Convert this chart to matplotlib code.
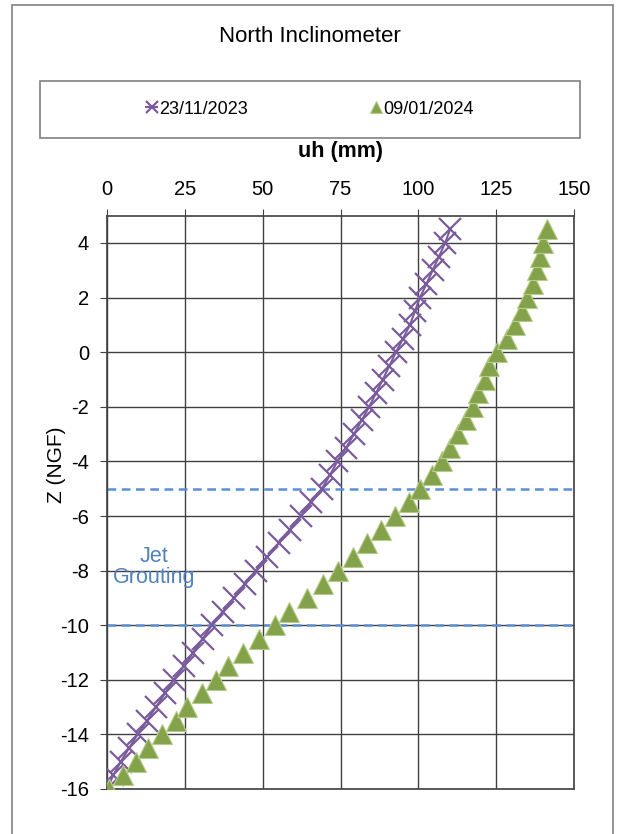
import numpy as np
import matplotlib.pyplot as plt
from matplotlib.patches import Rectangle

plt.rcParams['font.family'] = ['Liberation Sans', 'DejaVu Sans']
plt.rcParams['axes.unicode_minus'] = False

# depth of each reading (m NGF), every 0.5 m
z = np.arange(-16, 4.51, 0.5)

# horizontal displacement uh (mm)
uh_2023 = [0.0, 2.0, 4.4, 7.1, 9.8, 12.8, 15.7, 18.6, 21.5, 24.6, 27.7,
           30.7, 33.7, 37.2, 40.8, 44.4, 47.9, 51.5, 55.1, 58.7, 62.2,
           65.6, 69.0, 71.6, 74.0, 76.8, 79.3, 81.8, 84.2, 86.4, 88.6,
           90.7, 92.8, 95.1, 97.3, 98.9, 100.5, 102.6, 104.6, 106.6,
           108.6, 110.2]
uh_2024 = [0.8, 5.2, 9.3, 13.3, 17.6, 22.2, 25.8, 30.4, 35.0, 39.0, 43.8,
           48.9, 54.0, 58.4, 64.1, 69.4, 74.3, 78.9, 83.4, 88.0, 92.5,
           97.0, 100.6, 104.3, 107.5, 110.2, 112.8, 115.3, 117.4, 119.3,
           121.4, 122.7, 125.2, 128.4, 131.0, 133.2, 134.8, 136.7, 138.0,
           139.1, 139.9, 141.2]
labels = ['23/11/2023', '09/01/2024']

# jet grouting zone limits
grout_top = -5
grout_bottom = -10

W, H = 617, 834
fig = plt.figure(figsize=(W / 100, H / 100), dpi=100)
ax = fig.add_axes([107 / W, 1 - 789 / H, (574 - 107) / W, (789 - 215.7) / H])

ax.plot(uh_2023, z, color='#7A5C9C', lw=1.5, marker='x', ms=15.5, mew=1.6,
        label=labels[0], zorder=3)
ax.plot(uh_2024, z, color='#84A24A', lw=0, marker='^', ms=15,
        mec='#B5CB8A', mew=0.8, label=labels[1], zorder=4)

for zz in (grout_top, grout_bottom):
    ax.axhline(zz, color='#5B8FD6', lw=1.8, ls=(0, (3.5, 2.2)), zorder=2)
ax.text(15, -7.85, 'Jet\nGrouting', color='#4F81BD', fontsize=15.5,
        ha='center', va='center', linespacing=1.0)

ax.set_xlim(0, 150)
ax.set_ylim(-16, 5)
ax.set_xticks(np.arange(0, 151, 25))
ax.set_yticks(np.arange(-16, 5, 2))
ax.xaxis.tick_top()
ax.tick_params(axis='both', labelsize=14.5, length=5, color='#404040')
ax.tick_params(axis='y', pad=8)
ax.tick_params(axis='x', pad=7)
ax.grid(True, color='#404040', lw=1.0)
ax.set_axisbelow(True)
for s in ax.spines.values():
    s.set_color('#404040')
    s.set_linewidth(1.2)

fig.text(0.5 * (107 + 574) / W, 1 - 152 / H, 'uh (mm)', fontsize=15.5,
         fontweight='bold', ha='center', va='center')
fig.text(57 / W, 1 - 465 / H, 'Z (NGF)', fontsize=15, rotation=90,
         ha='center', va='center')
fig.text(0.5 * (40 + 580) / W, 1 - 37 / H, 'North Inclinometer', fontsize=16,
         ha='center', va='center')

leg = fig.legend(loc='center', bbox_to_anchor=(0.5 * (40 + 580) / W, 1 - 109 / H),
                 ncol=2, frameon=False, fontsize=13, handlelength=0.6,
                 handletextpad=0.1, columnspacing=6.8, markerscale=0.55)

# legend frame and outer chart border
fig.patches.append(Rectangle((40 / W, 1 - 138 / H), 540 / W, 57 / H,
                             transform=fig.transFigure, fill=False,
                             ec='#808080', lw=1.2))
fig.patches.append(Rectangle((12 / W, -0.05), 601 / W, 1.05 - 5 / H,
                             transform=fig.transFigure, fill=False,
                             ec='#808080', lw=1.2))

fig.savefig('out.png', dpi=100)
